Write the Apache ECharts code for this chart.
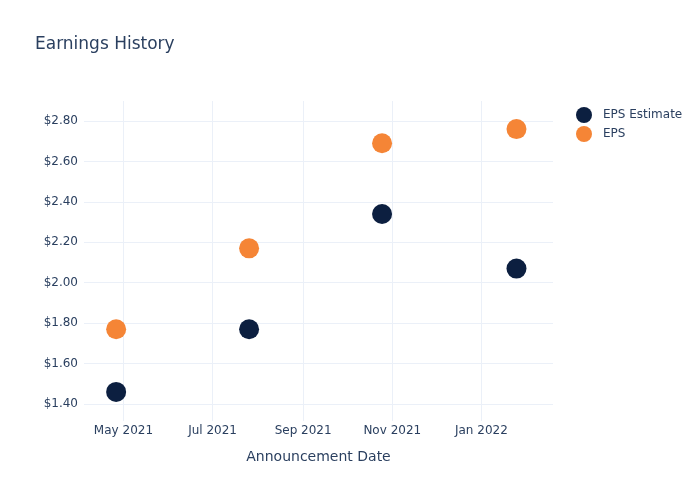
<!DOCTYPE html>
<html>
<head>
<meta charset="utf-8">
<script src="https://cdn.jsdelivr.net/npm/echarts@6/dist/echarts.min.js"></script>
<style>html,body{margin:0;padding:0;background:#fff}#c{width:700px;height:500px}</style>
</head>
<body>
<div id="c"></div>
<script>
const dates = ['2021-04-26', '2021-07-26', '2021-10-25', '2022-01-25'];
const epsEstimate = [1.46, 1.77, 2.34, 2.07];
const eps = [1.77, 2.17, 2.69, 2.76];
const seriesNames = ['EPS Estimate', 'EPS'];
const xTickDates = ['2021-05-01', '2021-07-01', '2021-09-01', '2021-11-01', '2022-01-01'];
const xTickLabels = ['May 2021', 'Jul 2021', 'Sep 2021', 'Nov 2021', 'Jan 2022'];
const colors = ['#0c1f40', '#f58536'];
const xMin = '2021-04-04';
const xMax = '2022-02-19';
const yMin = 1.316;
const yMax = 2.899;

const ts = d => Date.UTC(+d.slice(0, 4), +d.slice(5, 7) - 1, +d.slice(8, 10));
const chart = echarts.init(document.getElementById('c'), null, {renderer: 'canvas'});
const font = '"DejaVu Sans", sans-serif';
const mk = (vals) => dates.map((d, i) => [ts(d), vals[i]]);
const tickTs = xTickDates.map(ts);
chart.setOption({
  animation: false,
  backgroundColor: '#fff',
  textStyle: {fontFamily: font},
  title: {
    text: 'Earnings History', left: 30, top: 31,
    textStyle: {fontFamily: font, fontSize: 17, fontWeight: 'normal', color: '#2a3f5f'}
  },
  legend: {
    orient: 'vertical', left: 571, top: 102, itemGap: 3,
    icon: 'circle', itemWidth: 22, itemHeight: 16,
    textStyle: {fontFamily: font, fontSize: 12, color: '#2a3f5f', padding: [0, 0, 0, 3]},
    data: seriesNames
  },
  grid: {left: 84, right: 147, top: 101, bottom: 79, containLabel: false},
  xAxis: {
    type: 'value',
    min: ts(xMin), max: ts(xMax),
    name: 'Announcement Date', nameLocation: 'middle', nameGap: 29,
    nameTextStyle: {fontFamily: font, fontSize: 14, color: '#2a3f5f'},
    axisLine: {show: false},
    axisTick: {show: false, customValues: tickTs},
    axisLabel: {
      fontFamily: font, fontSize: 12, color: '#2a3f5f', margin: 4,
      customValues: tickTs,
      formatter: v => xTickLabels[tickTs.indexOf(v)] || ''
    },
    splitLine: {show: true, lineStyle: {color: '#ebf0f8', width: 1}}
  },
  yAxis: {
    type: 'value', min: yMin, max: yMax, splitNumber: 8,
    axisLine: {show: false}, axisTick: {show: false},
    axisLabel: {
      fontFamily: font, fontSize: 12, color: '#2a3f5f', margin: 6,
      showMinLabel: false, showMaxLabel: false,
      formatter: v => '$' + v.toFixed(2)
    },
    splitLine: {show: true, showMinLine: false, showMaxLine: false, lineStyle: {color: '#ebf0f8', width: 1}}
  },
  series: [
    {name: seriesNames[0], type: 'scatter', symbol: 'circle', symbolSize: 20, data: mk(epsEstimate), itemStyle: {color: colors[0], opacity: 1}},
    {name: seriesNames[1], type: 'scatter', symbol: 'circle', symbolSize: 20, data: mk(eps), itemStyle: {color: colors[1], opacity: 1}}
  ]
});
</script>
</body>
</html>
